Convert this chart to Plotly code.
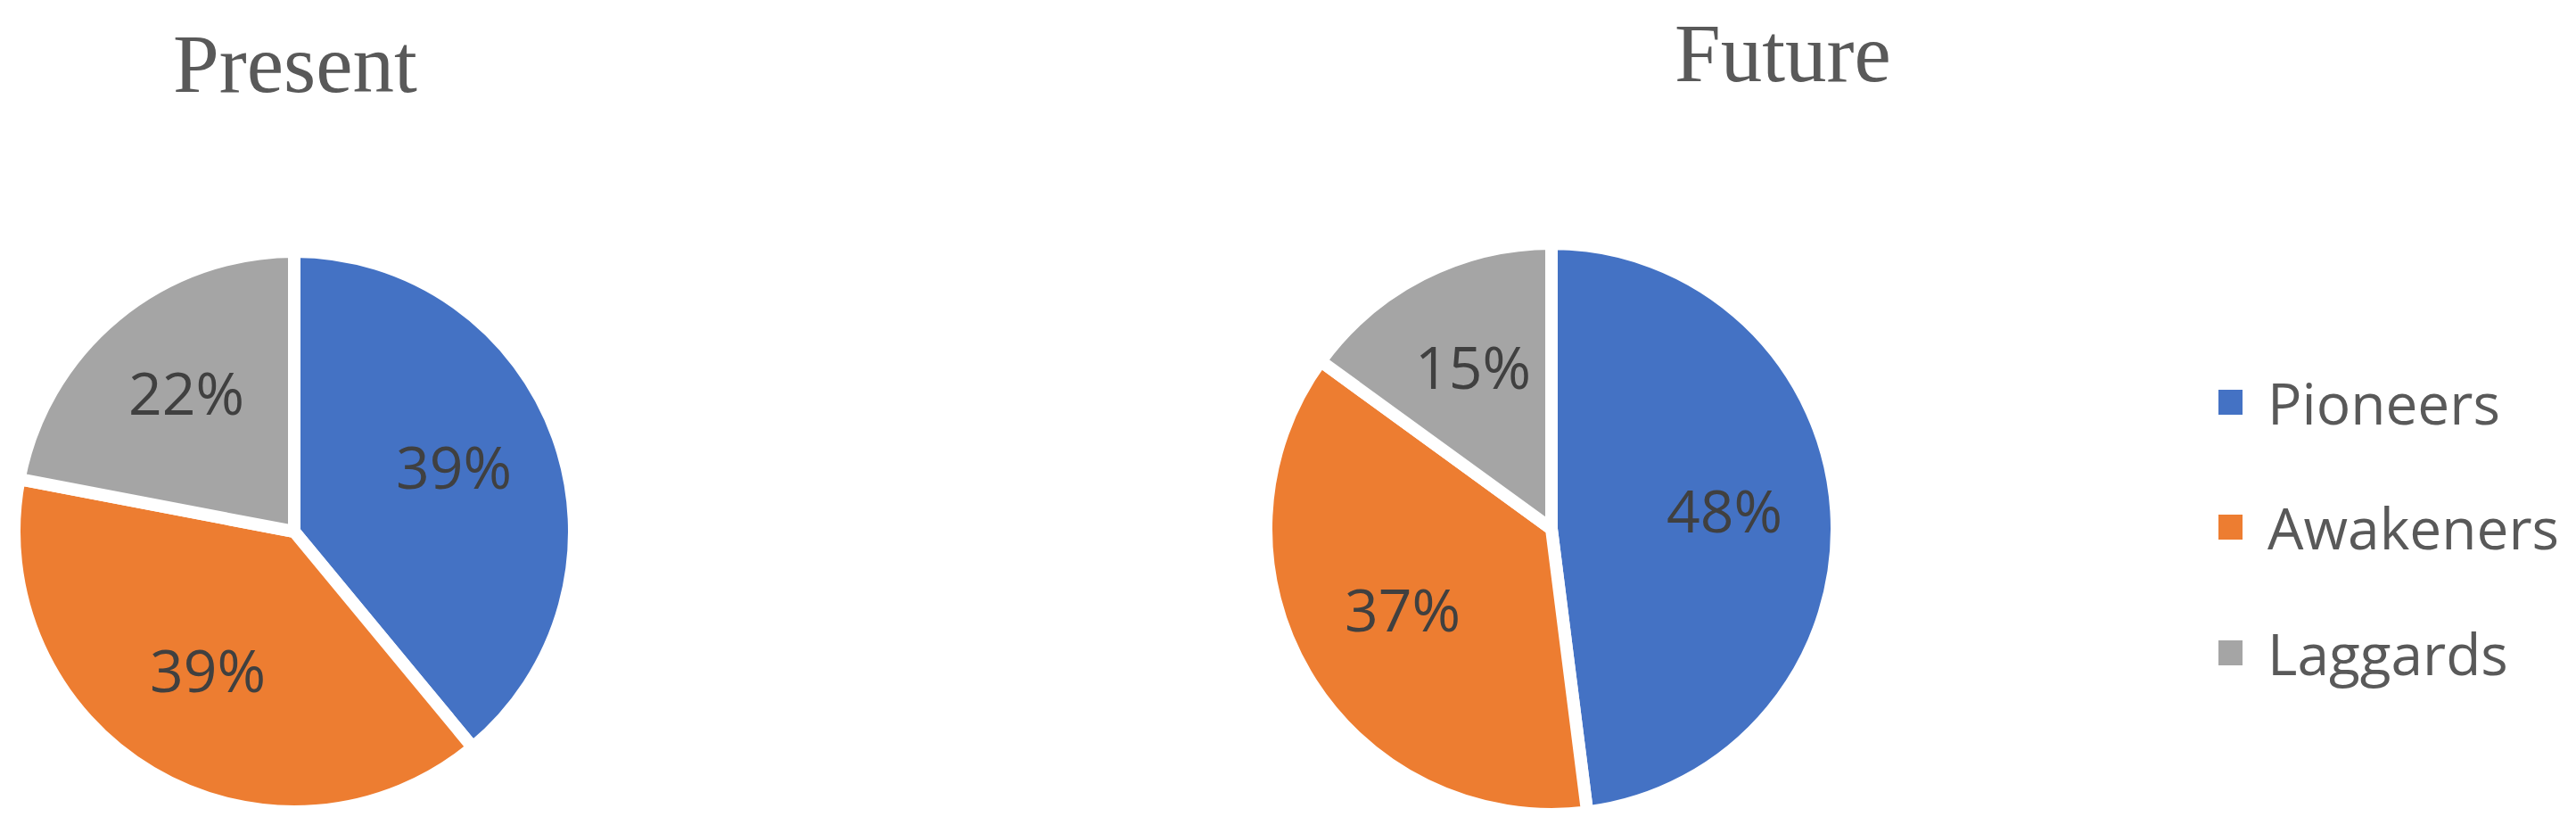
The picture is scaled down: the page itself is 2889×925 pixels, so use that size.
import math
import plotly.graph_objects as go

# ---- data ----
categories = ["Pioneers", "Awakeners", "Laggards"]
present_values = [39, 39, 22]
future_values = [48, 37, 15]
chart_titles = ["Present", "Future"]
colors = ["#4472C4", "#ED7D31", "#A5A5A5"]

W, H = 2889, 925


def px_x(x):
    return x / W


def px_y(y):
    return 1 - y / H


def domain(cx, cy, r):
    return dict(x=[px_x(cx - r), px_x(cx + r)], y=[px_y(cy + r), px_y(cy - r)])


LINE_W = 14
# pie geometry: (centre x, centre y, visible radius) in pixels
pies = [
    (chart_titles[0], present_values, (330, 596, 307)),
    (chart_titles[1], future_values, (1740, 593, 313)),
]

fig = go.Figure()

for name, vals, (cx, cy, rv) in pies:
    r = rv + LINE_W / 2
    fig.add_trace(go.Pie(
        values=vals, labels=categories, name=name,
        domain=domain(cx, cy, r),
        sort=False, direction="clockwise", rotation=0,
        marker=dict(colors=colors, line=dict(color="white", width=LINE_W)),
        textinfo="none",
        showlegend=False,
        hoverinfo="label+percent",
    ))
    # data labels: placed at the middle angle of each slice (best-fit style)
    total = sum(vals)
    cum = 0
    for v in vals:
        mid = (cum + v / 2) / total * 2 * math.pi
        cum += v
        lx = cx + 0.62 * rv * math.sin(mid)
        ly = cy - 0.62 * rv * math.cos(mid)
        fig.add_annotation(text=f"{v / total * 100:.0f}%", x=px_x(lx), y=px_y(ly),
                           xref="paper", yref="paper", xanchor="center", yanchor="middle",
                           yshift=10, showarrow=False,
                           font=dict(family="Open Sans", size=66, color="#404040"))

# titles
title_pos = [(331, 71), (1999, 59)]
for t, (tx, ty) in zip(chart_titles, title_pos):
    fig.add_annotation(text=t, x=px_x(tx), y=px_y(ty), xref="paper", yref="paper",
                       xanchor="center", yanchor="middle", showarrow=False,
                       font=dict(family="Liberation Serif", size=93, color="#595959"))

# legend (squares + labels)
leg_y = [451, 591, 732]
for name, col, ly in zip(categories, colors, leg_y):
    fig.add_shape(type="rect", xref="paper", yref="paper",
                  x0=px_x(2488), x1=px_x(2515), y0=px_y(ly + 14), y1=px_y(ly - 14),
                  fillcolor=col, line=dict(width=0))
    fig.add_annotation(text=name, x=px_x(2541), y=px_y(ly), xref="paper", yref="paper",
                       xanchor="left", yanchor="middle", showarrow=False,
                       font=dict(family="Open Sans", size=64, color="#595959"))

fig.update_layout(
    width=W, height=H,
    margin=dict(l=0, r=0, t=0, b=0),
    paper_bgcolor="white",
    plot_bgcolor="white",
)

fig.write_html("out.html", config={"displayModeBar": False},
               post_script="document.body.style.margin='0';document.body.style.overflow='hidden';")
